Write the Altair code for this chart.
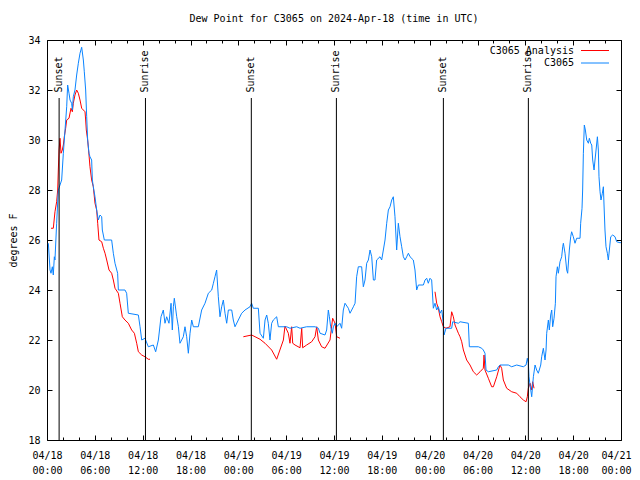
import altair as alt
import pandas as pd

FONT = "DejaVu Sans Mono"

title_text = "Dew Point for C3065 on 2024-Apr-18 (time in UTC)"
series_names = ["C3065 Analysis", "C3065"]
series_colors = ["#ff0000", "#0a84ff"]

# observed dew point (hours since 2024-04-18 00:00 UTC, deg F)
obs_hours = [
    0.17, 0.38, 0.50, 0.67, 0.79, 0.92, 1.00, 1.21, 1.42, 1.84,
    2.05, 2.26, 2.47, 2.59, 2.76, 2.89, 3.09, 3.18, 3.30, 3.51,
    3.72, 3.93, 4.14, 4.35, 4.56, 4.68, 4.85, 4.98, 5.10, 5.27,
    5.39, 5.60, 5.69, 5.81, 6.02, 6.23, 6.44, 6.65, 6.86, 6.94,
    7.19, 8.11, 8.32, 8.53, 8.86, 8.95, 9.78, 9.99, 10.20, 11.46,
    11.67, 11.88, 12.29, 12.71, 13.34, 13.63, 13.97, 14.30, 14.59, 14.80,
    15.01, 15.30, 15.56, 15.72, 15.85, 15.97,
    16.27, 16.48, 16.68, 17.10, 17.31, 17.52, 17.73, 17.94, 18.15, 18.36,
    18.98, 19.40, 19.82, 20.24, 20.66, 20.87, 21.07, 21.28, 21.49, 21.70,
    21.91, 22.12, 22.33, 22.54, 22.75, 23.17, 23.37, 23.58, 24.00, 24.42,
    24.84, 25.46, 25.67, 25.88, 26.51,
    26.72, 27.14, 27.35, 27.56, 27.76, 27.97, 28.18, 28.39, 28.81, 29.02,
    30.06, 30.48, 31.32, 31.74, 32.57, 33.62, 34.04, 34.25, 34.87, 35.08,
    35.29, 35.42, 35.58, 35.79, 35.92, 36.13, 36.34, 36.75, 36.96, 37.17,
    37.38, 37.80, 38.01, 38.43, 38.64, 38.84, 39.05, 39.47, 39.68, 39.89,
    40.10, 40.31, 40.52, 40.73, 40.94, 41.14, 41.35, 41.77, 41.98, 42.19,
    42.40, 42.61, 42.82, 43.03, 43.24, 43.44, 43.65, 43.86, 44.07, 44.28,
    44.49, 44.70, 44.91, 45.12, 45.33, 45.54, 45.95, 46.16, 46.37,
    46.58, 47.21, 47.42, 47.63, 47.83, 48.04, 48.25, 48.46, 48.67, 48.88,
    49.09, 49.30, 49.51, 49.72, 49.80, 50.05, 50.76, 50.89, 51.60, 51.81,
    52.85, 52.98, 54.11, 54.53, 54.73, 54.94, 55.07, 55.36, 56.41, 56.62,
    56.82, 57.87, 58.29, 58.92, 59.75, 60.09, 60.25, 60.38, 60.46, 60.59,
    60.80, 61.01, 61.22, 61.42, 61.63,
    61.93, 62.05, 62.26, 62.47, 62.60, 62.68, 62.89, 63.01, 63.18, 63.31,
    63.43, 63.60, 63.77, 63.85, 64.02, 64.14, 64.35, 64.56, 64.69, 64.77,
    64.98, 65.19, 65.31, 65.52, 65.69, 65.81, 66.02, 66.23, 66.44, 66.86,
    66.94, 67.11, 67.19, 67.28, 67.40, 67.53, 67.70, 67.91, 68.03, 68.20,
    68.33, 68.45, 68.62, 68.74, 68.87, 69.04, 69.16, 69.24, 69.37, 69.49,
    69.66, 69.79, 69.87, 69.99, 70.12, 70.29, 70.41, 70.54, 70.71, 70.96,
    71.25, 71.46, 71.88, 72.00,
]
obs_dewpt = [
    25.87, 24.8, 24.67, 24.93, 24.6, 25.33, 25.2, 26.67, 28.0, 28.4,
    29.47, 30.4, 31.33, 32.2, 31.87, 31.6, 31.47, 31.2, 31.73, 32.0,
    32.6, 33.07, 33.47, 33.71, 33.2, 32.73, 32.0, 30.93, 30.0, 29.47,
    29.33, 29.2, 28.4, 28.13, 27.73, 27.2, 26.8, 27.0, 26.93, 26.4,
    26.0, 26.0, 25.47, 25.07, 24.67, 24.0, 24.0, 23.87, 23.07, 23.0,
    22.53, 22.0, 22.07, 21.73, 21.8, 21.53, 22.0, 22.93, 23.2, 22.67,
    22.93, 22.67, 23.47, 22.4, 23.33, 23.67,
    22.93, 22.53, 21.87, 22.13, 22.53, 22.13, 21.47, 22.27, 22.8, 22.53,
    22.53, 23.2, 23.47, 23.87, 24.0, 24.27, 24.53, 24.8, 23.73, 22.93,
    23.33, 23.6, 23.07, 22.67, 23.2, 23.2, 22.8, 22.53, 22.8, 23.07,
    23.2, 23.33, 23.47, 23.27, 23.27,
    22.27, 22.07, 22.8, 23.0, 22.67, 22.0, 22.67, 22.8, 22.93, 22.53,
    22.53, 22.47, 22.53, 22.47, 22.53, 22.53, 22.47, 22.27, 22.2, 22.4,
    23.2, 22.93, 22.53, 22.27, 22.53, 22.67, 22.53, 22.67, 22.47, 23.2,
    23.47, 23.27, 23.07, 23.33, 23.47, 24.53, 24.93, 24.93, 24.13, 24.4,
    25.07, 25.2, 25.6, 25.33, 24.4, 24.4, 25.2, 25.33, 25.2, 25.6,
    26.0, 26.67, 27.2, 27.33, 27.6, 27.73, 26.93, 25.6, 26.67, 26.13,
    25.73, 25.33, 25.2, 25.33, 25.47, 25.33, 25.2, 24.8, 24.0,
    24.2, 24.2, 24.4, 24.47, 24.27, 24.47, 24.4, 23.27, 23.47, 23.2,
    23.33, 23.07, 23.2, 22.67, 22.2, 22.47, 22.47, 22.73, 22.67, 22.73,
    22.67, 21.73, 21.73, 21.67, 21.6, 21.47, 20.8, 20.73, 20.8, 20.93,
    21.0, 21.0, 20.93, 21.0, 20.93, 21.0, 21.27, 21.07, 20.53, 20.2,
    19.73, 20.53, 21.0, 20.8, 20.67,
    21.0, 21.33, 21.67, 21.2, 21.6, 22.27, 22.8, 22.4, 23.0, 23.2,
    22.53, 22.87, 23.47, 24.53, 24.93, 24.67, 25.13, 25.33, 25.73, 25.87,
    25.47, 24.8, 24.67, 25.6, 26.13, 26.33, 26.13, 25.87, 26.07, 26.07,
    26.67, 27.27, 28.0, 29.47, 30.6, 30.4, 30.0, 29.87, 30.07, 29.87,
    29.8, 29.2, 28.8, 29.2, 29.6, 30.13, 29.6, 28.53, 27.93, 27.6,
    27.87, 28.13, 27.4, 26.4, 25.73, 25.47, 25.2, 25.6, 26.13, 26.2,
    26.13, 25.93, 25.89, 25.9,
]

# analysis dew point, three separate runs
ana1_hours = [
    0.50, 0.79, 1.00, 1.21, 1.34, 1.42, 1.51, 1.63, 1.76, 1.92,
    2.05, 2.17, 2.34, 2.47, 2.76, 3.01, 3.18, 3.30, 3.51, 3.72,
    3.93, 4.14, 4.35, 4.77, 4.85, 4.93, 5.10, 5.27, 5.39, 5.60,
    5.81, 6.02, 6.23, 6.36, 6.52, 6.86, 7.07, 7.28, 7.49, 7.78,
    8.11, 8.32, 8.53, 8.95, 9.16, 9.45, 9.78, 10.20, 10.62, 10.96,
    11.25, 11.46, 11.88, 12.29, 12.71, 12.92,
]
ana1_dewpt = [
    26.47, 26.47, 27.13, 27.53, 28.0, 28.8, 29.6, 30.07, 29.47, 29.6,
    29.8, 30.13, 30.47, 30.8, 30.87, 31.27, 31.13, 31.47, 31.8, 32.0,
    31.87, 31.6, 31.27, 31.13, 30.8, 30.4, 30.0, 29.4, 28.93, 28.4,
    28.13, 27.47, 27.2, 26.67, 26.0, 25.93, 25.67, 25.47, 25.2, 24.8,
    24.67, 24.4, 24.07, 23.87, 23.47, 22.93, 22.8, 22.67, 22.4, 22.27,
    21.87, 21.53, 21.4, 21.33, 21.23, 21.23,
]
ana2_hours = [
    24.63, 25.67, 26.72, 27.35, 28.18, 28.81, 29.65, 29.85, 30.27, 30.48,
    30.69, 30.82, 31.11, 31.74, 31.95, 32.07, 32.57, 33.20, 33.62, 33.83,
    34.04, 34.45, 34.87, 35.50, 35.83, 36.13, 36.34, 36.75,
]
ana2_dewpt = [
    22.13, 22.2, 22.03, 21.87, 21.6, 21.23, 22.0, 22.56, 22.27, 21.87,
    22.53, 21.87, 21.8, 21.69, 22.47, 21.69, 21.8, 21.93, 22.13, 22.53,
    22.0, 21.73, 21.67, 22.0, 22.87, 22.67, 22.13, 22.07,
]
ana3_hours = [
    48.67, 48.88, 49.09, 49.30, 49.51, 49.72, 50.05, 50.55, 50.76, 50.97,
    51.18, 51.60, 51.81, 52.02, 52.23, 52.64, 53.06, 53.48, 53.90, 54.32,
    54.73, 54.82, 54.94, 55.36, 55.78, 55.99, 56.41, 56.82, 57.03, 57.24,
    57.66, 58.29, 58.92, 59.33, 59.75, 60.09, 60.25, 60.38, 60.59, 60.80,
    60.92, 61.09,
]
ana3_dewpt = [
    23.93, 23.47, 23.27, 22.93, 22.73, 22.53, 22.47, 22.53, 23.13, 22.93,
    22.6, 22.27, 22.13, 21.93, 21.6, 21.2, 21.0, 20.73, 20.6, 20.73,
    20.87, 21.4, 20.8, 20.47, 20.13, 20.13, 20.53, 21.0, 20.87, 20.4,
    20.07, 19.93, 19.87, 19.73, 19.6, 19.53, 19.73, 20.07, 20.27, 20.0,
    20.33, 20.07,
]

sun_hours = [1.52, 12.35, 25.63, 36.30, 49.72, 60.38]
sun_labels = ["Sunset", "Sunrise", "Sunset", "Sunrise", "Sunset", "Sunrise"]

x_major = list(range(0, 73, 6))
x_minor = [h for h in range(0, 73, 2) if h % 6 != 0]
y_major = list(range(18, 35, 2))

W, H = 574, 400

# ---------------------------------------------------------------- data frames
obs = pd.DataFrame({"hours": obs_hours, "dewpt": obs_dewpt})
obs["series"] = series_names[1]
obs["seg"] = "obs"
ana_parts = []
for i, (hh, vv) in enumerate([(ana1_hours, ana1_dewpt), (ana2_hours, ana2_dewpt), (ana3_hours, ana3_dewpt)]):
    d = pd.DataFrame({"hours": hh, "dewpt": vv})
    d["series"] = series_names[0]
    d["seg"] = f"a{i}"
    ana_parts.append(d)
ana = pd.concat(ana_parts, ignore_index=True)
sun = pd.DataFrame({"hours": sun_hours, "label": sun_labels})

xscale = alt.Scale(domain=[0, 72], nice=False, zero=False)
yscale = alt.Scale(domain=[18, 34], nice=False, zero=False)
cscale = alt.Scale(domain=series_names, range=series_colors)

x_label_expr = (
    "['04/' + (18 + floor(datum.value / 24)), "
    "((datum.value % 24) < 10 ? '0' : '') + (datum.value % 24) + ':00']"
)


def x_label_axis(values, flush):
    kw = dict(
        orient="bottom", values=values, labelExpr=x_label_expr, labelFont=FONT,
        labelFontSize=10, labelColor="black", labelPadding=10, labelLineHeight=15,
        labelAngle=0, labelOverlap=False,
        ticks=False, tickSize=0, domain=False, grid=False, title=None,
    )
    if flush:
        kw.update(labelFlush=True, labelFlushOffset=10)
    else:
        kw.update(labelFlush=False)
    return alt.Axis(**kw)


y_axis = alt.Axis(
    orient="left", values=y_major, labelFont=FONT, labelFontSize=10,
    labelColor="black", labelPadding=7, labelFlush=False, labelOverlap=False,
    ticks=False, tickSize=0, domain=False, grid=False,
    title="degrees F", titleFont=FONT, titleFontSize=10, titleFontWeight="normal",
    titleColor="black", titleAngle=270, titleX=-34, titleY=H / 2,
    titleAlign="center", titleBaseline="middle",
)


def line_layer(df, with_axes):
    if with_axes:
        xe = alt.X("hours:Q", scale=xscale, axis=x_label_axis(x_major[:-1], False))
        ye = alt.Y("dewpt:Q", scale=yscale, axis=y_axis)
    else:
        xe = alt.X("hours:Q", scale=xscale, axis=None)
        ye = alt.Y("dewpt:Q", scale=yscale, axis=None)
    return alt.Chart(df).mark_line(strokeWidth=1).encode(
        x=xe, y=ye,
        color=alt.Color("series:N", scale=cscale, legend=None),
        detail="seg:N",
    )


def tick_layer(x_orient, y_orient, xvals, yvals, size):
    xa = alt.Axis(orient=x_orient, offset=-H, values=xvals, tickSize=size,
                  tickColor="black", tickWidth=1, labels=False, domain=False,
                  grid=False, title=None, ticks=True)
    ya = alt.Axis(orient=y_orient, offset=-W, values=yvals, tickSize=size,
                  tickColor="black", tickWidth=1, labels=False, domain=False,
                  grid=False, title=None, ticks=True)
    return alt.Chart(obs).mark_point(opacity=0, size=1).encode(
        x=alt.X("hours:Q", scale=xscale, axis=xa),
        y=alt.Y("dewpt:Q", scale=yscale, axis=ya),
    )


ana_line = line_layer(ana, True)
obs_line = line_layer(obs, False)

# last date label, right-aligned so it stays inside the page
last_label = alt.Chart(obs).mark_point(opacity=0, size=1).encode(
    x=alt.X("hours:Q", scale=xscale, axis=x_label_axis(x_major[-1:], True)),
    y=alt.Y("dewpt:Q", scale=yscale, axis=None),
)

ticks_a = tick_layer("top", "right", x_major, y_major, 5)
ticks_b = tick_layer("bottom", "left", x_major, y_major, 5)
ticks_c = tick_layer("top", "right", x_minor, [], 3)
ticks_d = tick_layer("bottom", "left", x_minor, [], 3)

sun_rules = alt.Chart(sun).mark_rule(color="black", strokeWidth=1).encode(
    x=alt.X("hours:Q", scale=xscale, axis=None),
    y=alt.value(58), y2=alt.value(H),
)
sun_text = alt.Chart(sun).mark_text(
    angle=270, align="left", baseline="middle", font=FONT, fontSize=10, color="black"
).encode(
    x=alt.X("hours:Q", scale=xscale, axis=None),
    y=alt.value(52.5),
    text="label:N",
)

title_layer = alt.Chart(pd.DataFrame({"t": [title_text]})).mark_text(
    font=FONT, fontSize=10, color="black", align="center", baseline="middle"
).encode(text="t:N", x=alt.value(W / 2), y=alt.value(-21))

legend_layers = []
for i, (name, col) in enumerate(zip(series_names, series_colors)):
    yy = 10.5 + 12.5 * i
    legend_layers.append(
        alt.Chart(pd.DataFrame({"t": [name]})).mark_text(
            font=FONT, fontSize=10, color="black", align="right", baseline="middle"
        ).encode(text="t:N", x=alt.value(527), y=alt.value(yy))
    )
    legend_layers.append(
        alt.Chart(pd.DataFrame({"t": [name]})).mark_rule(color=col, strokeWidth=1).encode(
            x=alt.value(534), x2=alt.value(562), y=alt.value(yy)
        )
    )

chart = alt.layer(
    ana_line, obs_line, last_label, ticks_a, ticks_b, ticks_c, ticks_d,
    sun_rules, sun_text, title_layer, *legend_layers,
).resolve_axis(
    x="independent", y="independent"
).properties(
    width=W, height=H,
    autosize=alt.AutoSizeParams(type="none"),
    padding={"left": 39, "top": 32, "right": 11, "bottom": 37},
    background="white",
).configure_view(
    stroke="black", strokeWidth=1
)

chart.save("out.html", embed_options={"renderer": "svg", "actions": False})
